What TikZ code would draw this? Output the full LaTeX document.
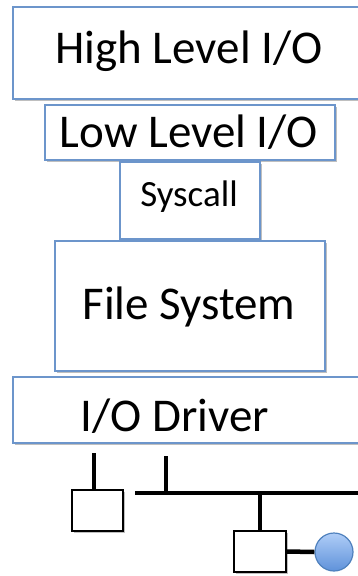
\documentclass[tikz,border=0pt]{standalone}
\usepackage{fontspec}
\setmainfont{Carlito}
\usetikzlibrary{shadows}
\definecolor{layerblue}{HTML}{6C95CB}
\definecolor{disktop}{HTML}{AFCDF7}
\definecolor{diskbot}{HTML}{5F92DA}
\definecolor{diskrim}{HTML}{4F81BD}
\tikzset{
  layer/.style={draw=layerblue, line width=1.2pt, fill=white, inner sep=0pt,
    drop shadow={shadow xshift=1.5pt, shadow yshift=-2pt, opacity=.25, fill=black}},
  lbl/.style={anchor=base, inner sep=0pt, font=\fontsize{47}{50}\selectfont},
  dev/.style={draw=black, line width=1.3pt, fill=white, inner sep=0pt,
    drop shadow={shadow xshift=1.5pt, shadow yshift=-2pt, opacity=.25, fill=black}},
  wire/.style={line width=4.5pt}
}
\begin{document}
\begin{tikzpicture}[x=1pt,y=-1pt]
\useasboundingbox (0,0) rectangle (358,576);
% Layers
\node[layer, minimum width=353pt, minimum height=92pt] (hlio) at (189.5,53) {};
\node[layer, minimum width=290pt, minimum height=55pt] (llio) at (190,132.5) {};
\node[layer, minimum width=140pt, minimum height=77pt] (sysc) at (190,200.5) {};
\node[layer, minimum width=270pt, minimum height=130pt] (fsys) at (190,306) {};
\node[layer, minimum width=353pt, minimum height=66pt] (drv) at (189.5,410) {};
% Labels
\node[lbl] (hliot) at (189,63) {High Level I/O};
\node[lbl] (lliot) at (189,147) {Low Level I/O};
\node[lbl, font=\fontsize{37}{40}\selectfont] (sysct) at (189,206) {Syscall};
\node[lbl] (fsyst) at (189,319) {File System};
\node[lbl] (drvt) at (175,431) {I/O Driver};
% Devices
\node[dev, minimum width=51pt, minimum height=41pt] (sqa) at (97.5,510.5) {};
\node[dev, minimum width=52pt, minimum height=41pt] (sqb) at (260,551.5) {};
\node[circle, draw=diskrim, line width=1.2pt, top color=disktop, bottom color=diskbot,
  minimum size=38pt, inner sep=0pt] (disk) at (334,552) {};
% Bus
\coordinate (tapa) at (94,453);
\coordinate (tapb) at (166,456);
\coordinate (busl) at (135,493);
\coordinate (busr) at (360,493);
\draw[wire] (busl) -- (busr);
\draw[wire] (tapa) -- (tapa |- sqa.north);
\draw[wire] (tapb) -- (tapb |- busl);
\draw[wire] (sqb.north |- busl) -- (sqb.north);
\draw[wire] (sqb.east) -- (disk.west);
\end{tikzpicture}
\end{document}
